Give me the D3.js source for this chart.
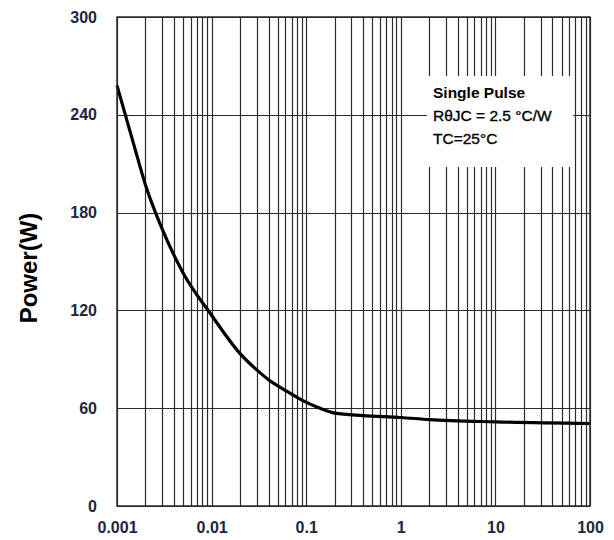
<!DOCTYPE html>
<html>
<head>
<meta charset="utf-8">
<script src="https://cdn.jsdelivr.net/npm/d3@7"></script>
<style>
  body { margin: 0; background: #fff; }
  svg text { font-family: "Liberation Sans", Arial, sans-serif; }
</style>
</head>
<body>
<div id="chart"></div>
<script>
// pulse width (s) and peak power (W)
var pulseWidth = [0.001, 0.0015, 0.002, 0.003, 0.005, 0.01, 0.02, 0.03, 0.04, 0.06, 0.09, 0.14, 0.2, 0.4, 1, 2, 10, 100];
var peakPower  = [258, 222, 197, 170, 143, 117, 93.5, 83.5, 77.5, 71, 65, 60, 57, 55.5, 54.3, 53, 51.6, 50.6];

var xTickLabels = [0.001, 0.01, 0.1, 1, 10, 100];
var yTickLabels = [0, 60, 120, 180, 240, 300];
var legendLines = ["Single Pulse", "R\u03B8JC = 2.5 \u00B0C/W", "TC=25\u00B0C"];

var margin = { top: 17, right: 24, bottom: 34, left: 117 },
    width = 614 - margin.left - margin.right,
    height = 540 - margin.top - margin.bottom;

var svg = d3.select("#chart")
    .append("svg")
    .attr("width", 614)
    .attr("height", 540)
    .append("g")
    .attr("transform", "translate(" + margin.left + "," + margin.top + ")");

var x = d3.scaleLog().domain([0.001, 100]).range([0, width]);
var y = d3.scaleLinear().domain([0, 300]).range([height, 0]);

var gridColor = "#2b2b2b";

// vertical grid: every 1..9 in each decade
svg.append("g")
    .selectAll("line")
    .data(x.ticks())
    .enter()
    .append("line")
    .attr("x1", function (d) { return Math.round(x(d)) + 0.5; })
    .attr("x2", function (d) { return Math.round(x(d)) + 0.5; })
    .attr("y1", 0)
    .attr("y2", height)
    .style("stroke", gridColor)
    .style("stroke-width", 1.2);

// horizontal grid
svg.append("g")
    .selectAll("line")
    .data(yTickLabels)
    .enter()
    .append("line")
    .attr("x1", 0)
    .attr("x2", width)
    .attr("y1", function (d) { return Math.round(y(d)) + 0.5; })
    .attr("y2", function (d) { return Math.round(y(d)) + 0.5; })
    .style("stroke", gridColor)
    .style("stroke-width", 1.2);

// the curve
var pts = pulseWidth.map(function (d, i) { return [d, peakPower[i]]; });
var line = d3.line()
    .x(function (d) { return x(d[0]); })
    .y(function (d) { return y(d[1]); })
    .curve(d3.curveMonotoneX);

svg.append("path")
    .datum(pts)
    .attr("d", line)
    .style("fill", "none")
    .style("stroke", "#000")
    .style("stroke-width", 3.2);

// legend box (white, hides the grid behind it)
svg.append("rect")
    .attr("x", 427 - margin.left)
    .attr("y", 76 - margin.top)
    .attr("width", 146)
    .attr("height", 91)
    .style("fill", "#fff");

svg.append("g")
    .selectAll("text")
    .data(legendLines)
    .enter()
    .append("text")
    .attr("x", 433 - margin.left)
    .attr("y", function (d, i) { return 98 - margin.top + i * 23; })
    .text(function (d) { return d; })
    .attr("font-size", "15.5px")
    .attr("font-weight", function (d, i) { return i == 0 ? "bold" : "normal"; })
    .attr("fill", "#000")
    .style("stroke", function (d, i) { return i == 0 ? "none" : "#000"; })
    .style("stroke-width", 0.35);

// frame
svg.append("rect")
    .attr("x", 0)
    .attr("y", 0)
    .attr("width", width)
    .attr("height", height)
    .style("fill", "none")
    .style("stroke", gridColor)
    .style("stroke-width", 1.5);

// axes (labels only)
var labelColor = "#1c2541";

var xAxis = svg.append("g")
    .attr("transform", "translate(0," + height + ")")
    .call(d3.axisBottom(x).tickValues(xTickLabels).tickSize(0).tickPadding(16)
        .tickFormat(function (d) { return String(d); }));
xAxis.select(".domain").remove();
xAxis.selectAll("text")
    .attr("font-size", "16px")
    .attr("font-weight", "bold")
    .attr("fill", labelColor);

var yAxis = svg.append("g")
    .call(d3.axisLeft(y).tickValues(yTickLabels).tickSize(0).tickPadding(20));
yAxis.select(".domain").remove();
yAxis.selectAll("text")
    .attr("font-size", "16px")
    .attr("font-weight", "bold")
    .attr("fill", labelColor);

// y title
svg.append("text")
    .attr("transform", "translate(" + (37 - margin.left) + "," + (268 - margin.top) + ") rotate(-90)")
    .attr("text-anchor", "middle")
    .attr("font-size", "24px")
    .attr("font-weight", "bold")
    .attr("fill", "#000")
    .text("Power(W)");
</script>
</body>
</html>
